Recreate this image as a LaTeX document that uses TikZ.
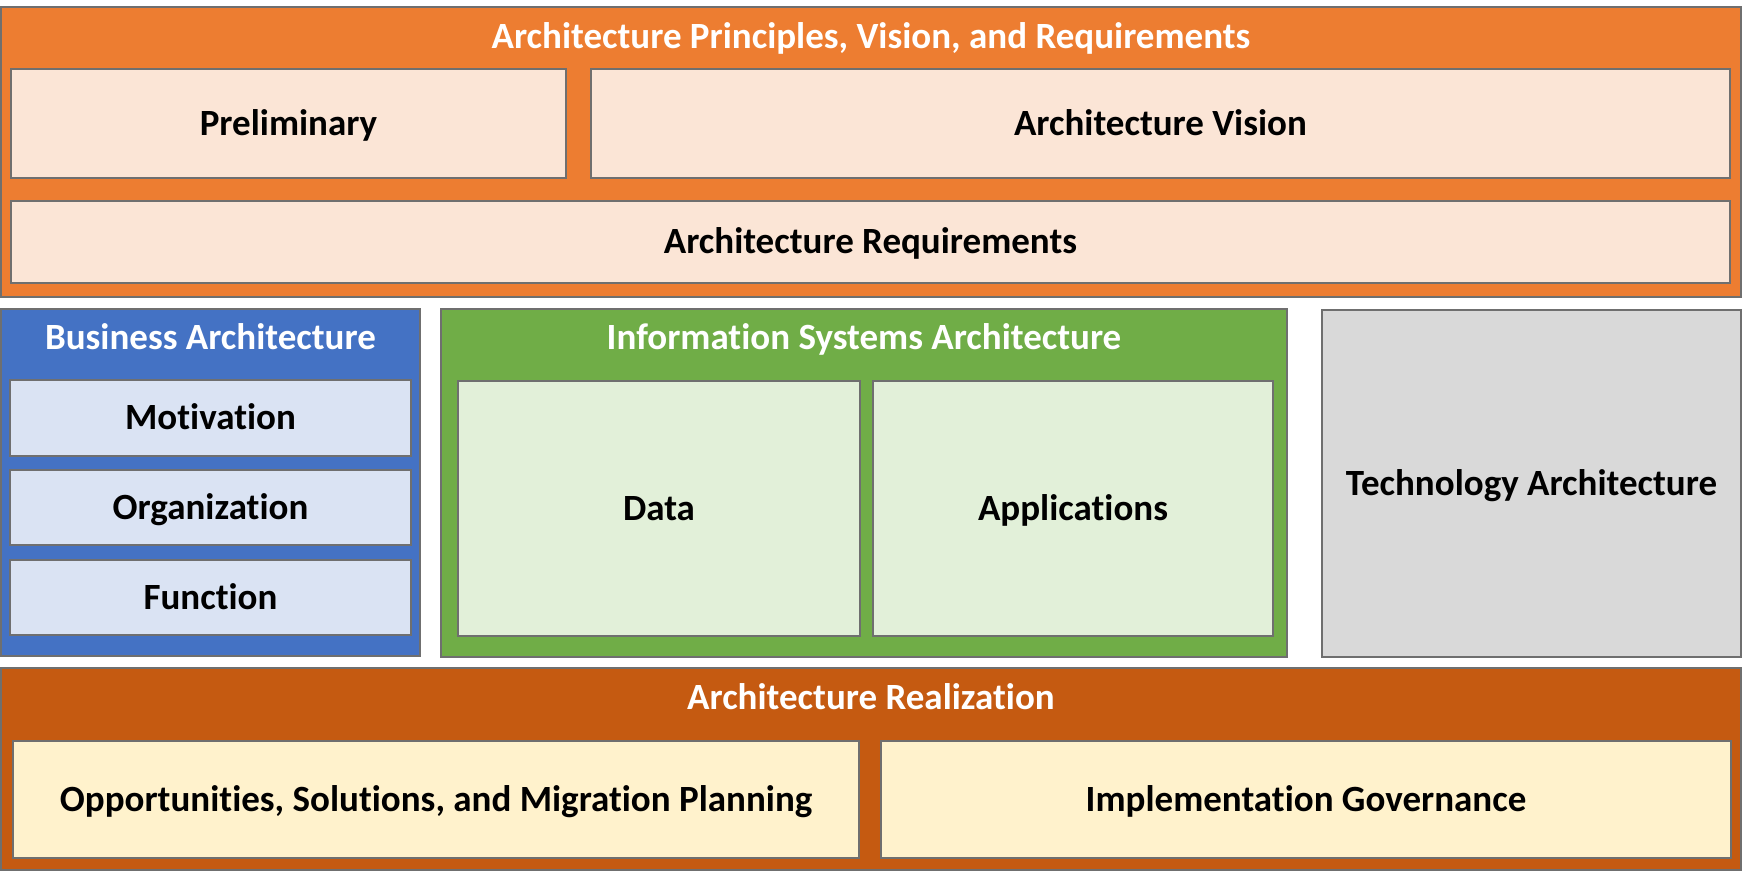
\documentclass[tikz,border=0pt]{standalone}
\usepackage{fontspec}
\setmainfont{Carlito}[Ligatures=NoCommon, Contextuals=NoAlternate]
\usetikzlibrary{positioning}

\definecolor{togafOrange}{HTML}{ED7D31}
\definecolor{togafPeach}{HTML}{FBE5D6}
\definecolor{togafBlue}{HTML}{4472C4}
\definecolor{togafLightBlue}{HTML}{DAE3F3}
\definecolor{togafGreen}{HTML}{70AD47}
\definecolor{togafLightGreen}{HTML}{E2F0D9}
\definecolor{togafGrey}{HTML}{D9D9D9}
\definecolor{togafRust}{HTML}{C55A11}
\definecolor{togafCream}{HTML}{FFF2CC}
\definecolor{edgeGrey}{HTML}{6F6F6F}

\tikzset{
  box/.style={draw=edgeGrey, line width=1pt, rectangle, inner sep=0pt,
    text height=11.9pt, text depth=0pt,
    font=\bfseries\fontsize{18.5}{22}\selectfont, text=black},
  title/.style={inner sep=0pt, text height=11.9pt, text depth=0pt,
    font=\bfseries\fontsize{18.5}{22}\selectfont, text=white}
}

\begin{document}
\begin{tikzpicture}[x=0.5pt,y=-0.5pt]
	\useasboundingbox (0,0) rectangle (1743,872);
	
	% principles, vision, requirements
	\node[box, fill=togafOrange, minimum width=870pt, minimum height=145pt] (top) at (871,152) {};
	\node[title] (toptitle) at (871,37) {Architecture Principles, Vision, and Requirements};
	\node[box, fill=togafPeach, minimum width=277.5pt, minimum height=54.5pt] (prelim) at (288.5,123.5) {Preliminary};
	\node[box, fill=togafPeach, minimum width=569.5pt, minimum height=54.5pt] (vision) at (1160.5,123.5) {Architecture Vision};
	\node[box, fill=togafPeach, minimum width=859.5pt, minimum height=41pt] (req) at (870.5,242) {Architecture Requirements};
	
	% business
	\node[box, fill=togafBlue, minimum width=209.5pt, minimum height=173.5pt] (business) at (210.5,482.5) {};
	\node[title] (businesstitle) at (210.5,338) {Business Architecture};
	\node[box, fill=togafLightBlue, minimum width=200.5pt, minimum height=38pt] (motivation) at (210.5,418) {Motivation};
	\node[box, fill=togafLightBlue, minimum width=200.5pt, minimum height=37.5pt] (organization) at (210.5,507.5) {Organization};
	\node[box, fill=togafLightBlue, minimum width=200.5pt, minimum height=37.5pt] (function) at (210.5,597.5) {Function};
	
	% information systems
	\node[box, fill=togafGreen, minimum width=423pt, minimum height=174pt] (infosys) at (864,483) {};
	\node[title] (infosystitle) at (864,338) {Information Systems Architecture};
	\node[box, fill=togafLightGreen, minimum width=201pt, minimum height=127.5pt] (data) at (659,508.5) {Data};
	\node[box, fill=togafLightGreen, minimum width=200pt, minimum height=127.5pt] (apps) at (1073,508.5) {Applications};
	
	% technology
	\node[box, fill=togafGrey, minimum width=209.5pt, minimum height=173.5pt] (tech) at (1531.5,483.5) {Technology Architecture};
	
	% realization
	\node[box, fill=togafRust, minimum width=870pt, minimum height=101pt] (realization) at (871,769) {};
	\node[title] (realizationtitle) at (871,698) {Architecture Realization};
	\node[box, fill=togafCream, minimum width=423pt, minimum height=58.5pt] (opps) at (436,799.5) {Opportunities, Solutions, and Migration Planning};
	\node[box, fill=togafCream, minimum width=425pt, minimum height=58.5pt] (gov) at (1306,799.5) {Implementation Governance};
\end{tikzpicture}
\end{document}
